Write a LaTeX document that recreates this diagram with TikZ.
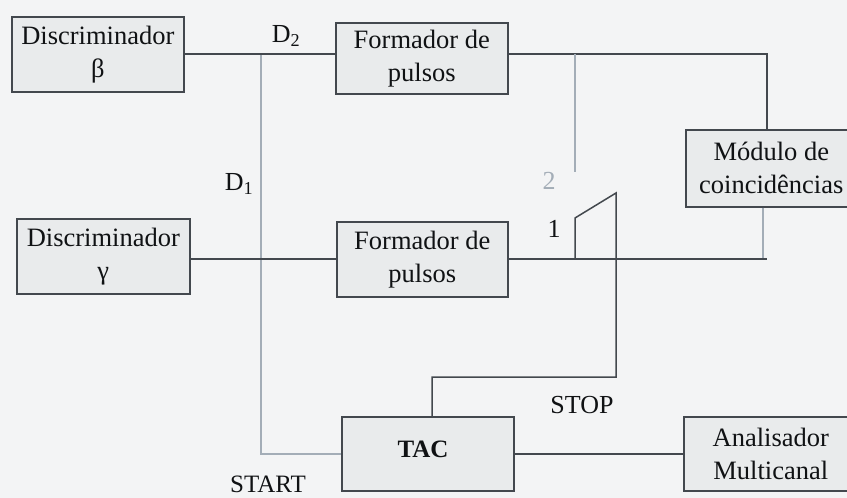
\documentclass[tikz,border=0pt]{standalone}
\usepackage{fontspec}
\setmainfont{Liberation Serif}
\definecolor{bg}{HTML}{F3F4F5}
\definecolor{boxfill}{HTML}{E9EBEC}
\definecolor{ln}{HTML}{43484E}
\definecolor{pale}{HTML}{A3ADB7}
\definecolor{txt}{HTML}{101214}
\tikzset{
  blockbox/.style={draw=ln,line width=1.6pt,fill=boxfill,text=txt,align=center,inner sep=0pt,anchor=north west,font=\fontsize{26.5}{33}\selectfont},
  wire/.style={draw=ln,line width=1.5pt},
  palewire/.style={draw=pale,line width=1.6pt},
  lbl/.style={text=txt,inner sep=0pt,font=\fontsize{26}{30}\selectfont},
}
\begin{document}
\begin{tikzpicture}[x=1pt,y=-1pt]
\useasboundingbox[fill=bg] (0,0) rectangle (847,498);
\node[blockbox,minimum width=172pt,minimum height=75pt] (db) at (11,16) {Discriminador\\β};
\node[blockbox,minimum width=172pt,minimum height=71pt] (f1) at (335,22) {Formador de\\pulsos};
\node[blockbox,minimum width=171pt,minimum height=77pt] (mc) at (685,129) {Módulo de\\coincidências};
\node[blockbox,minimum width=173pt,minimum height=75pt] (dg) at (16,218) {Discriminador\\γ};
\node[blockbox,minimum width=171pt,minimum height=75pt] (f2) at (336,221) {Formador de\\pulsos};
\node[blockbox,minimum width=172pt,minimum height=74pt] (tac) at (341,416) {};
\node[blockbox,minimum width=174pt,minimum height=74pt] (am) at (683,416) {Analisador\\Multicanal};
\coordinate (j1) at (261,54);
\coordinate (j2) at (261,454);
\coordinate (k1) at (575,54);
\coordinate (k2) at (575,172);
\coordinate (m1) at (767,54);
\coordinate (m2) at (767,259);
\coordinate (m3) at (763,259);
\coordinate (s1) at (575,259);
\coordinate (s2) at (575,218);
\coordinate (s3) at (616,193);
\coordinate (s4) at (616,377);
\coordinate (s5) at (432,377);
\draw[palewire] (j1) -- (j2) -- (tac.west |- j2);
\draw[wire] (db.east |- j1) -- (f1.west |- j1);
\draw[wire] (f1.east |- k1) -- (m1) -- (m1 |- mc.north);
\draw[palewire] (k1) -- (k2);
\draw[palewire] (m3 |- mc.south) -- (m3);
\draw[wire] (dg.east |- s1) -- (f2.west |- s1);
\draw[wire] (f2.east |- s1) -- (m2);
\draw[wire] (s1) -- (s2) -- (s3) -- (s4) -- (s5) -- (s5 |- tac.north);
\draw[wire,line width=2.4pt] (tac.east |- j2) -- (am.west |- j2);
\node[lbl,font=\bfseries\fontsize{25}{30}\selectfont] (tact) at (423,449) {TAC};
\node[lbl] (d2) at (286,36) {D\textsubscript{2}};
\node[lbl] (d1) at (239,184) {D\textsubscript{1}};
\node[lbl,text=pale] (n2) at (549,181) {2};
\node[lbl] (n1) at (554,229) {1};
\node[lbl] (stop) at (582,405) {STOP};
\node[lbl,font=\fontsize{25}{28}\selectfont] (start) at (268,484.5) {START};
\end{tikzpicture}
\end{document}
